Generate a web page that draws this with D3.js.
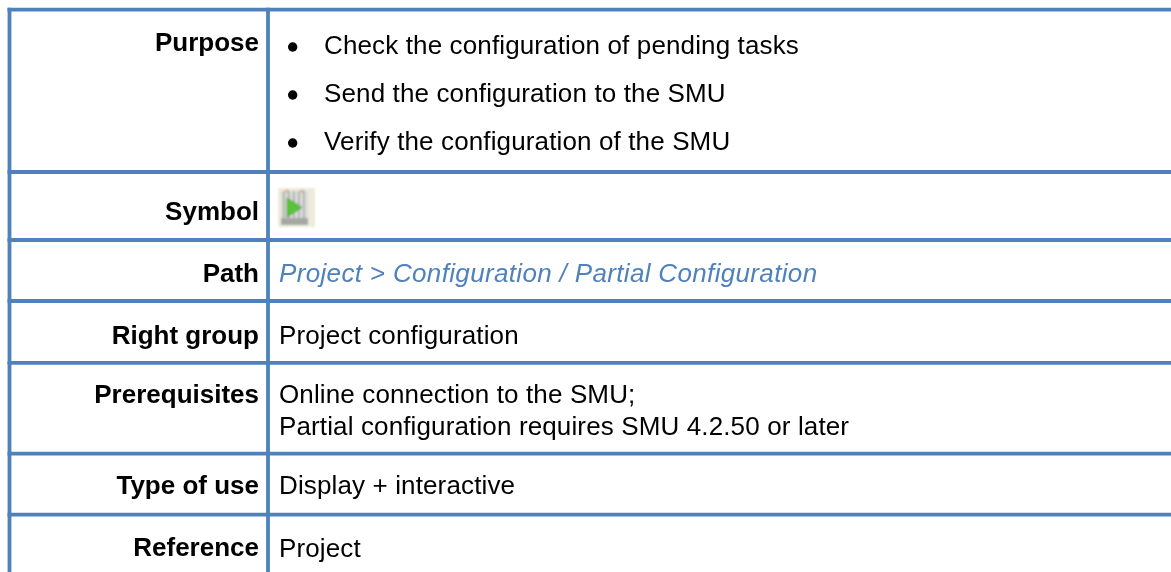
<!DOCTYPE html>
<html>
<head>
<meta charset="utf-8">
<script src="https://cdn.jsdelivr.net/npm/d3@7"></script>
<style>
html, body { margin: 0; padding: 0; background: #fff; }
text { font-family: "Liberation Sans", Arial, sans-serif; font-size: 26px; fill: #000; letter-spacing: .13px; }
.label { font-weight: bold; text-anchor: end; letter-spacing: 0; }
.path { fill: #4f81bd; font-style: italic; letter-spacing: .34px; }
</style>
</head>
<body>
<svg id="chart"></svg>
<script>
const svgWidth = 1171, svgHeight = 572;

const rowLabels = ['Purpose', 'Symbol', 'Path', 'Right group', 'Prerequisites', 'Type of use', 'Reference'];
const rowEdges = [9.7, 172, 240, 301, 362.8, 453.7, 514.7];
const labelBaselines = [51, 220, 282, 344, 403, 494, 556];
const bulletLines = ['Check the configuration of pending tasks', 'Send the configuration to the SMU', 'Verify the configuration of the SMU'];
const bulletBaselines = [54, 102, 150];
const plainLines = ['Project configuration', 'Online connection to the SMU;', 'Partial configuration requires SMU 4.2.50 or later', 'Display + interactive', 'Project'];
const plainBaselines = [344, 403, 435, 494, 557];
const pathLine = 'Project > Configuration / Partial Configuration';
const pathBaseline = 282;

const svg = d3.select('#chart').attr('width', svgWidth).attr('height', svgHeight).style('display', 'block');
const y = d3.scaleLinear().domain([0, svgHeight]).range([0, svgHeight]);
const blue = '#4f81bd';

// soft edges, the source is a scaled screenshot
const defs = svg.append('defs');
defs.append('filter').attr('id', 'soft').append('feGaussianBlur').attr('stdDeviation', 0.35);
defs.append('filter').attr('id', 'softer').append('feGaussianBlur').attr('stdDeviation', 0.9);

// grid
svg.append('g').selectAll('line').data(rowEdges).join('line')
    .attr('x1', 7.5).attr('x2', svgWidth)
    .attr('y1', d => y(d)).attr('y2', d => y(d))
    .attr('stroke', blue).attr('stroke-width', 3.8);
svg.append('g').selectAll('line').data([9.5, 268]).join('line')
    .attr('x1', d => d).attr('x2', d => d)
    .attr('y1', y(7.8)).attr('y2', y(svgHeight))
    .attr('stroke', blue).attr('stroke-width', 3.8);

const textLayer = svg.append('g').attr('filter', 'url(#soft)');

// left column
textLayer.append('g').selectAll('text').data(rowLabels).join('text')
    .attr('class', 'label').attr('x', 259)
    .attr('y', (d, i) => y(labelBaselines[i])).text(d => d);

// bullets
textLayer.append('g').selectAll('circle').data(bulletBaselines).join('circle')
    .attr('cx', 292.7).attr('cy', d => y(d - 7)).attr('r', 4.7).attr('fill', '#000');
textLayer.append('g').selectAll('text').data(bulletLines).join('text')
    .attr('x', 324).attr('y', (d, i) => y(bulletBaselines[i])).text(d => d);

// plain cells
textLayer.append('g').selectAll('text').data(plainLines).join('text')
    .attr('x', 279).attr('y', (d, i) => y(plainBaselines[i])).text(d => d);
textLayer.append('text').attr('class', 'path').attr('x', 279).attr('y', y(pathBaseline)).text(pathLine);

// symbol icon
const icon = svg.append('g').attr('transform', 'translate(278,188)').attr('filter', 'url(#softer)');
icon.append('rect').attr('width', 37).attr('height', 39).attr('fill', '#ecebdc');
icon.append('rect').attr('x', 3).attr('y', 3).attr('width', 27).attr('height', 33).attr('fill', '#dcdedc');
icon.selectAll('.bar').data([5, 10, 15, 20, 25]).join('rect').attr('class', 'bar')
    .attr('x', d => d).attr('y', 3).attr('width', 1.6).attr('height', 27).attr('fill', '#a4a6a4');
icon.append('rect').attr('x', 3).attr('y', 30).attr('width', 27).attr('height', 7).attr('fill', '#a5a7a3');
icon.selectAll('.pin').data([9, 24]).join('circle').attr('class', 'pin')
    .attr('cx', d => d).attr('cy', 3).attr('r', 1.6).attr('fill', '#e0a070');
icon.append('path').attr('d', d3.line()([[9, 10], [24, 19.5], [9, 29]]) + 'Z').attr('fill', '#55c635').attr('stroke', '#3d8f2a').attr('stroke-width', 0.8);
</script>
</body>
</html>
